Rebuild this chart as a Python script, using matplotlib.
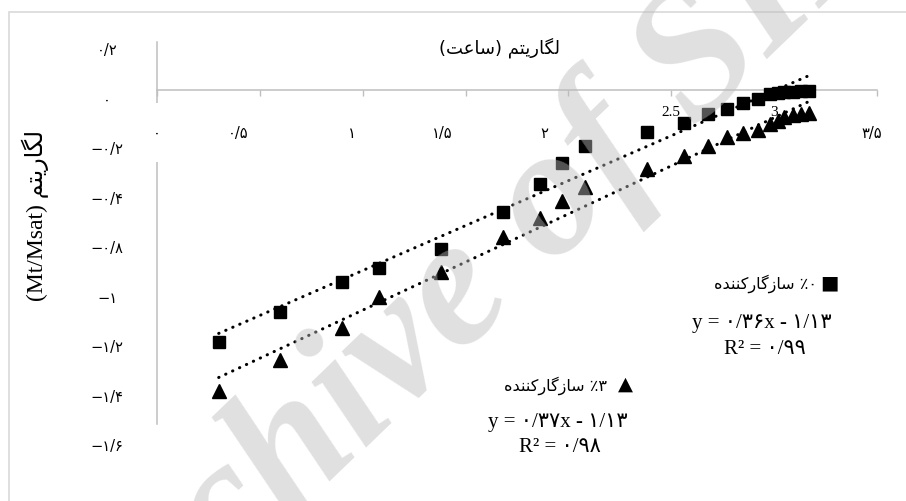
import numpy as np
import matplotlib
matplotlib.use("Agg")
import matplotlib.pyplot as plt
from matplotlib.patches import Rectangle
from matplotlib.transforms import ScaledTranslation

# log(time) values
log_t = [0.30, 0.60, 0.90, 1.08, 1.38, 1.68, 1.86, 1.97, 2.08, 2.38, 2.56,
         2.68, 2.77, 2.85, 2.92, 2.98, 3.02, 3.05, 3.09, 3.13, 3.17]
# 0% compatibilizer (squares)
log_m0 = [-1.057, -0.932, -0.806, -0.747, -0.666, -0.510, -0.394, -0.307, -0.233, -0.177, -0.140,
          -0.101, -0.080, -0.056, -0.038, -0.017, -0.013, -0.010, -0.008, -0.006, -0.004]
# 3% compatibilizer (triangles)
log_m3 = [-1.260, -1.130, -0.999, -0.869, -0.764, -0.615, -0.538, -0.464, -0.405, -0.329, -0.275,
          -0.233, -0.198, -0.181, -0.168, -0.143, -0.128, -0.113, -0.105, -0.101, -0.096]

x_ticks = [0, 0.5, 1, 1.5, 2, 3.5]
x_labels = ['۰', '۰/۵', '۱', '۱/۵', '۲', '۳/۵']
x_ticks_latin = [2.5, 3]
x_labels_latin = ['2.5', '3']
y_ticks = [0.2, 0, -0.2, -0.4, -0.6, -0.8, -1.0, -1.2, -1.4]
y_labels = ['۰/۲', '۰', '−۰/۲', '−۰/۴', '−۰/۸', '−۱', '−۱/۲', '−۱/۴', '−۱/۶']

# matplotlib has no arabic shaping, so pick the presentation forms by hand
# (isolated, final, initial, medial)
FORMS = {
    'ا': ('\uFE8D', '\uFE8E', None, None),
    'د': ('\uFEA9', '\uFEAA', None, None),
    'ر': ('\uFEAD', '\uFEAE', None, None),
    'ز': ('\uFEAF', '\uFEB0', None, None),
    'ت': ('\uFE95', '\uFE96', '\uFE97', '\uFE98'),
    'س': ('\uFEB1', '\uFEB2', '\uFEB3', '\uFEB4'),
    'ع': ('\uFEC9', '\uFECA', '\uFECB', '\uFECC'),
    'ل': ('\uFEDD', '\uFEDE', '\uFEDF', '\uFEE0'),
    'م': ('\uFEE1', '\uFEE2', '\uFEE3', '\uFEE4'),
    'ن': ('\uFEE5', '\uFEE6', '\uFEE7', '\uFEE8'),
    'ه': ('\uFEE9', '\uFEEA', '\uFEEB', '\uFEEC'),
    'ک': ('\uFB8E', '\uFB8F', '\uFB90', '\uFB91'),
    'گ': ('\uFB92', '\uFB93', '\uFB94', '\uFB95'),
    'ی': ('\uFBFC', '\uFBFD', '\uFBFE', '\uFBFF'),
}


def rtl(word):
    out = []
    for i, ch in enumerate(word):
        f = FORMS.get(ch)
        if f is None:
            out.append(ch)
            continue
        prev = word[i - 1] if i > 0 else ''
        nxt = word[i + 1] if i + 1 < len(word) else ''
        join_prev = prev in FORMS and FORMS[prev][2] is not None
        join_next = f[2] is not None and nxt in FORMS
        if join_prev and join_next:
            out.append(f[3])
        elif join_prev:
            out.append(f[1])
        elif join_next:
            out.append(f[2])
        else:
            out.append(f[0])
    return ''.join(reversed(out))


MIXED = ['Liberation Serif', 'DejaVu Sans']
AXIS_GRAY = '#bfbfbf'

fig = plt.figure(figsize=(9.06, 5.02), dpi=100)
ax = fig.add_axes([0.1733, 0.1534, 0.7947, 0.7603])

# series + linear trend lines
ax.plot(log_t, log_m0, 's', color='black', ms=8.5, zorder=3)
ax.plot(log_t, log_m3, '^', color='black', ms=9.5, zorder=3)
for ys in (log_m0, log_m3):
    coef = np.polyfit(log_t, ys, 1)
    xs = np.array([min(log_t), max(log_t)])
    ax.plot(xs, np.polyval(coef, xs), color='black', lw=2.2,
            linestyle=(0, (0.1, 2.4)), dash_capstyle='round', zorder=3)

ax.set_xlim(0, 3.5)
ax.set_ylim(-1.4, 0.2)
ax.spines['top'].set_visible(False)
ax.spines['right'].set_visible(False)
ax.spines['bottom'].set_position(('data', 0))
for s in ('left', 'bottom'):
    ax.spines[s].set_color(AXIS_GRAY)
    ax.spines[s].set_linewidth(1.1)

ax.set_xticks(x_ticks)
ax.set_xticklabels(x_labels, family='DejaVu Sans', fontsize=10.5)
ax.set_xticks(x_ticks_latin, minor=True)
ax.set_xticklabels(x_labels_latin, minor=True, family='Liberation Serif', fontsize=11)
ax.tick_params(axis='x', which='both', direction='out', length=4, width=1, color=AXIS_GRAY)
ax.tick_params(axis='x', which='major', pad=21)
ax.tick_params(axis='x', which='minor', pad=7)
ax.xaxis.set_zorder(2.6)
# the persian labels were pasted a bit left of their ticks in the original
for lab, dx in zip(ax.get_xticklabels(), [0, -22, -11, -23, -24, -5]):
    lab.set_transform(lab.get_transform() + ScaledTranslation(dx / 100, 0, fig.dpi_scale_trans))
# white box behind the zero label cuts the y axis line like in the original
ax.get_xticklabels()[0].set_bbox(dict(facecolor='white', edgecolor='none', pad=16))

ax.set_yticks(y_ticks)
ax.set_yticklabels(y_labels, family='DejaVu Sans', fontsize=10.5, ha='center')
ax.tick_params(axis='y', length=0, pad=36)
for i, lab in enumerate(ax.get_yticklabels()):
    lab.set_transform(lab.get_transform() + ScaledTranslation(0, -(6 + 1.75 * i) / 100, fig.dpi_scale_trans))

# chart border (cut off on right and bottom)
fig.add_artist(Rectangle((9 / 906, -0.1), 1.2, 1.1 - 13 / 502, transform=fig.transFigure,
                         fill=False, edgecolor='#d9d9d9', lw=1.2))

fig.text(499 / 906, 1 - 48 / 502, '(' + rtl('ساعت') + ') ' + rtl('لگاریتم'),
         family='DejaVu Sans', fontsize=13, ha='center', va='center')
fig.text(35 / 906, 1 - 215 / 502, '(Mt/Msat) ' + rtl('لگاریتم'), family=MIXED,
         fontsize=17, rotation=90, ha='center', va='center')

# hand-placed legend entries with their trend equations
fig.text(817 / 906, 1 - 284 / 502, rtl('سازگارکننده') + ' ٪۰', family='DejaVu Sans',
         fontsize=11.5, ha='right', va='center')
fig.text(829 / 906, 1 - 283 / 502, '■', family='DejaVu Sans', fontsize=14,
         ha='center', va='center')
fig.text(762 / 906, 1 - 324 / 502, 'y = ۰/۳۶x - ۱/۱۳', family=MIXED, fontsize=15,
         ha='center', va='center')
fig.text(765 / 906, 1 - 350 / 502, 'R² = ۰/۹۹', family=MIXED, fontsize=15,
         ha='center', va='center')

fig.text(607 / 906, 1 - 386 / 502, rtl('سازگارکننده') + ' ٪۳', family='DejaVu Sans',
         fontsize=11.5, ha='right', va='center')
fig.text(625 / 906, 1 - 384 / 502, '▲', family='DejaVu Sans', fontsize=14,
         ha='center', va='center')
fig.text(558 / 906, 1 - 423 / 502, 'y = ۰/۳۷x - ۱/۱۳', family=MIXED, fontsize=15,
         ha='center', va='center')
fig.text(560 / 906, 1 - 448 / 502, 'R² = ۰/۹۸', family=MIXED, fontsize=15,
         ha='center', va='center')

# watermark over everything
fig.text(474 / 906, 1 - 288 / 502, 'Archive of SID', family='Liberation Serif',
         style='italic', weight='bold', fontsize=133, rotation=44,
         color=(0.73, 0.73, 0.73), alpha=0.45, ha='center', va='center', zorder=10)

fig.savefig('out.png', dpi=100)
